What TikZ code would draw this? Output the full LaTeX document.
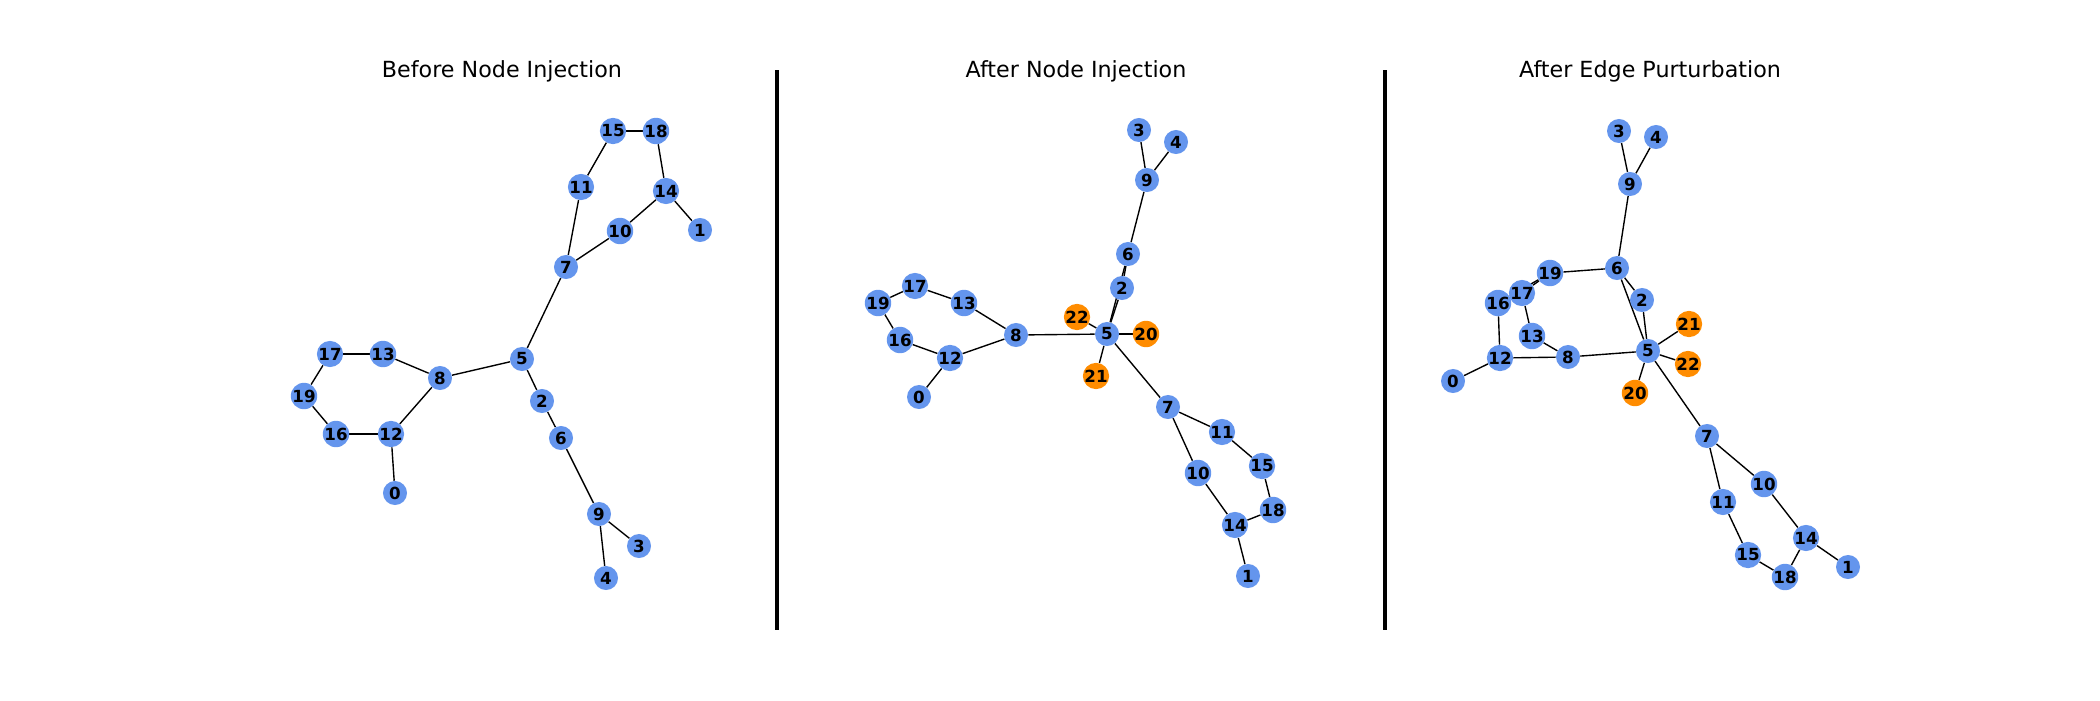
\documentclass[tikz,border=0pt]{standalone}
\usepackage{fontspec}
\setmainfont{DejaVu Sans}
\usetikzlibrary{backgrounds}
\definecolor{nodeblue}{RGB}{100,149,237}
\definecolor{nodeorange}{RGB}{255,140,0}

\begin{document}
\begin{tikzpicture}[x=0.72pt,y=-0.72pt,
  vertex/.style={circle,fill=nodeblue,inner sep=0pt,minimum size=17.3pt,
    font=\fontsize{12}{14}\selectfont\bfseries},
  injected/.style={vertex,fill=nodeorange},
  edge/.style={line width=1pt},
  separator/.style={line width=3pt},
  paneltitle/.style={font=\fontsize{16}{19}\selectfont,anchor=base}]
\useasboundingbox (0,0) rectangle (2100,700);

% titles
\node[paneltitle] (title1) at (502,77) {Before Node Injection};
\node[paneltitle] (title2) at (1076,77) {After Node Injection};
\node[paneltitle] (title3) at (1650,77) {After Edge Purturbation};

% separators
\coordinate (sepAtop) at (777,70);
\coordinate (sepAbot) at (777,630);
\coordinate (sepBtop) at (1385,70);
\coordinate (sepBbot) at (1385,630);
\draw[separator] (sepAtop) -- (sepAbot);
\draw[separator] (sepBtop) -- (sepBbot);

% before node injection
\foreach \n/\x/\y in {0/395/493,1/700/230,2/542/401,3/639/546,4/606/578,
  5/522/359,6/561/438,7/566/267,8/440/378,9/599/514,10/620/231,11/581/187,
  12/391/434,13/383/354,14/666/191,15/613/131,16/336/434,17/330/354,
  18/656/131,19/304/396}
  \node[vertex] (a\n) at (\x,\y) {\n};
\begin{scope}[on background layer]
\foreach \u/\v in {15/18,15/11,18/14,14/10,14/1,11/7,10/7,7/5,5/8,5/2,2/6,
  6/9,9/3,9/4,8/13,8/12,13/17,17/19,19/16,16/12,12/0}
  \draw[edge] (a\u) -- (a\v);
\end{scope}

% after node injection
\foreach \n/\x/\y in {0/919/397,1/1248/576,2/1122/288,3/1139/130,4/1176/142,
  5/1107/334,6/1128/254,7/1168/407,8/1016/335,9/1147/180,10/1198/473,
  11/1222/432,12/950/358,13/964/303,14/1235/525,15/1262/466,16/900/340,
  17/915/286,18/1273/510,19/878/303}
  \node[vertex] (b\n) at (\x,\y) {\n};
\foreach \n/\x/\y in {20/1146/334,21/1096/376,22/1077/317}
  \node[injected] (b\n) at (\x,\y) {\n};
\begin{scope}[on background layer]
\foreach \u/\v in {3/9,4/9,9/6,6/2,2/5,6/5,17/19,17/13,13/8,19/16,16/12,12/8,
  12/0,8/5,22/5,20/5,21/5,5/7,7/11,7/10,11/15,15/18,18/14,10/14,14/1}
  \draw[edge] (b\u) -- (b\v);
\end{scope}

% after edge perturbation
\foreach \n/\x/\y in {0/1453/381,1/1848/567,2/1642/300,3/1619/131,4/1656/137,
  5/1648/351,6/1617/268,7/1707/436,8/1568/357,9/1630/184,10/1764/484,
  11/1723/502,12/1500/358,13/1532/336,14/1806/538,15/1748/555,16/1498/303,
  17/1522/293,18/1785/577,19/1550/273}
  \node[vertex] (c\n) at (\x,\y) {\n};
\foreach \n/\x/\y in {20/1635/393,21/1689/324,22/1688/364}
  \node[injected] (c\n) at (\x,\y) {\n};
\begin{scope}[on background layer]
\foreach \u/\v in {3/9,4/9,9/6,6/19,6/2,6/5,2/5,19/17,19/16,17/13,13/8,16/12,
  12/8,12/0,8/5,5/21,5/22,5/20,5/7,7/10,7/11,10/14,11/15,15/18,18/14,14/1}
  \draw[edge] (c\u) -- (c\v);
\end{scope}
\end{tikzpicture}
\end{document}
